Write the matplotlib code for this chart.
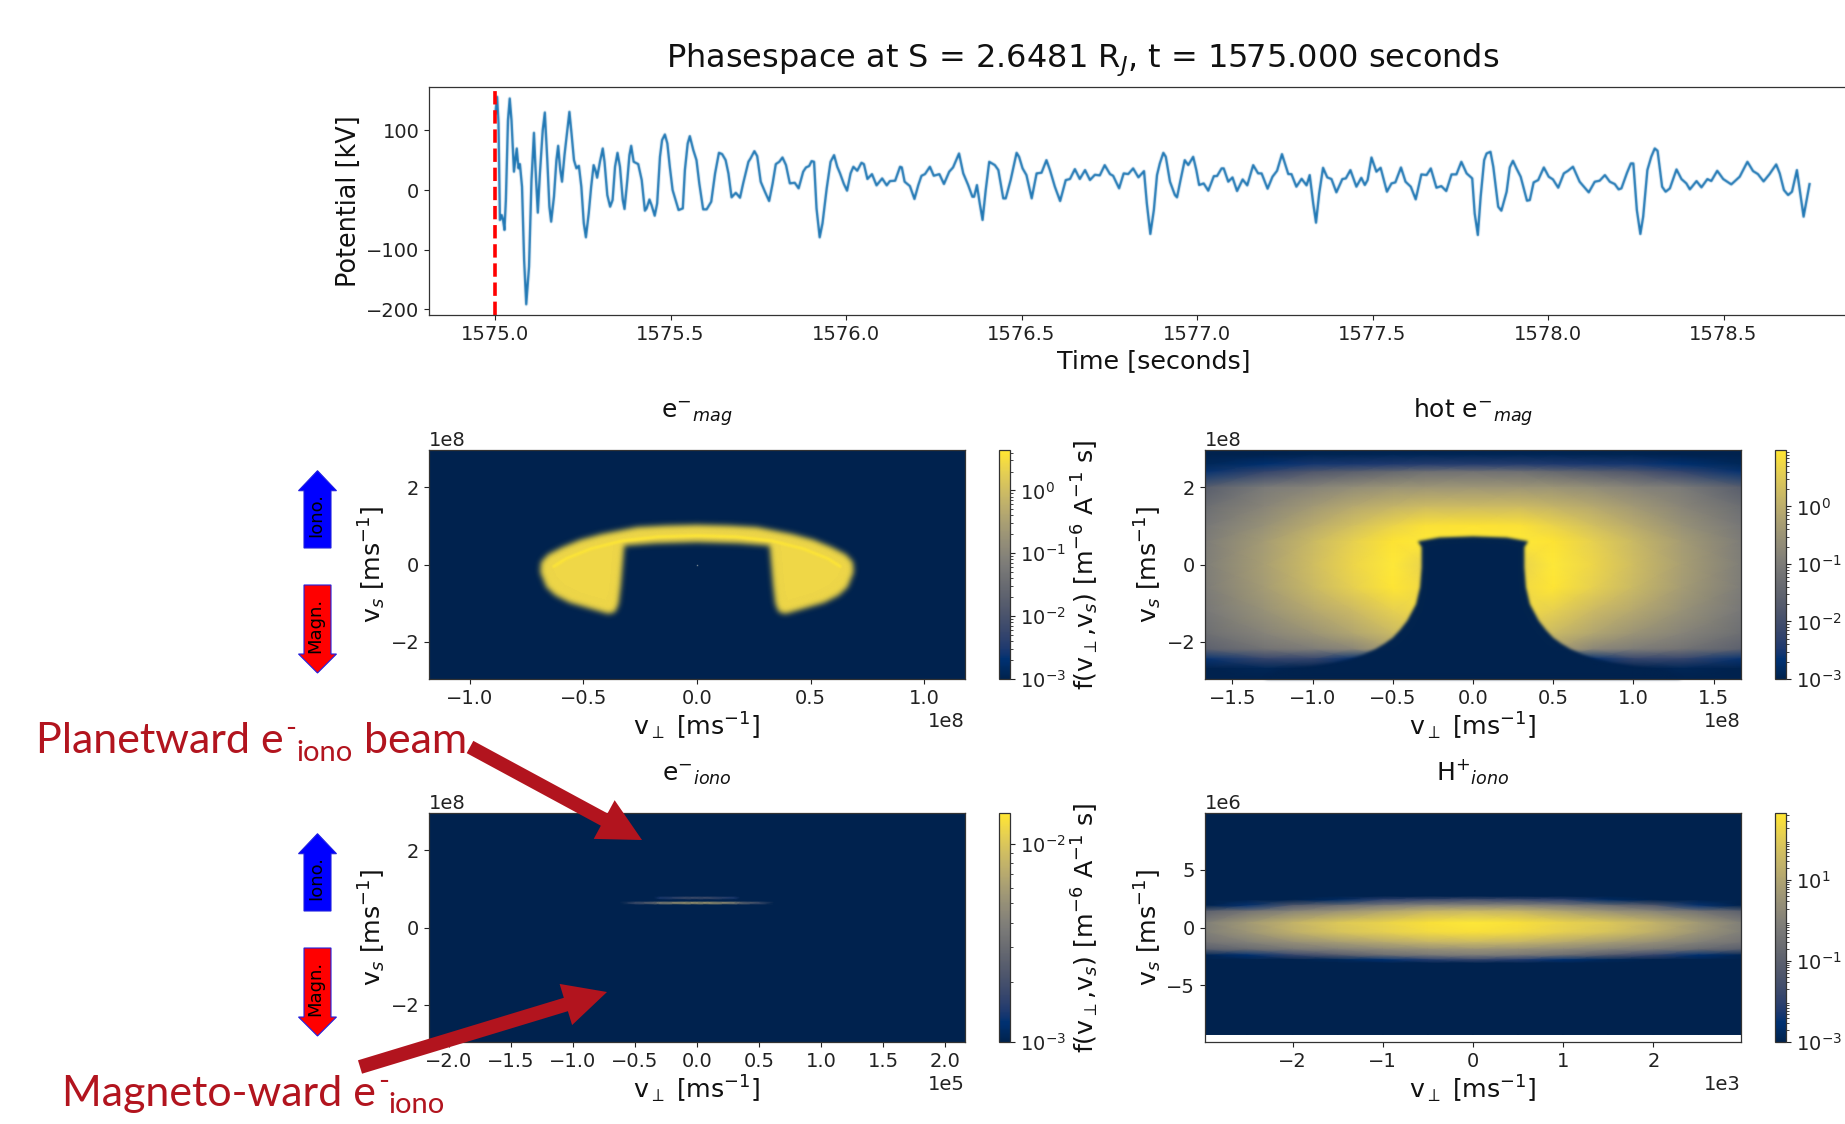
import numpy as np
import matplotlib
matplotlib.use('Agg')
import matplotlib.pyplot as plt
from matplotlib.colors import LogNorm
from matplotlib.cm import ScalarMappable
from matplotlib.patches import FancyArrow
from matplotlib.ticker import LogLocator, NullFormatter

W, H = 1845, 1124
plt.rcParams.update({'font.size': 14, 'axes.edgecolor': '#333333', 'axes.linewidth': 0.9,
                     'xtick.color': '#222222', 'ytick.color': '#222222', 'text.color': '#111111',
                     'axes.labelcolor': '#111111', 'axes.titlecolor': '#111111'})

# ---- potential time series (ms after 1575 s, kV) ----
time_ms = [1,6,10,14,19,23,27,31,37,42,47,54,62,67,71,77,83,89,97,104,111,117,122,128,136,142,149,155,160,168,175,180,186,191,198,205,212,218,225,232,239,246,253,259,267,274,281,286,291,299,307,312,320,328,335,342,349,356,364,369,377,383,388,395,408,418,427,432,440,446,455,462,470,476,484,491,498,506,513,523,535,541,549,555,565,574,582,593,603,616,627,638,647,657,665,674,686,698,707,722,728,739,747,757,769,781,791,800,810,819,829,840,854,865,878,886,895,902,909,916,925,933,945,956,966,975,983,994,1003,1013,1021,1032,1044,1051,1061,1074,1087,1103,1116,1125,1140,1154,
 1159,1167,1182,1195,1206,1215,1225,1239,1250,1266,1279,1294,1305,1322,1334,1348,1360,1365,1373,1381,1389,1398,1408,1424,1434,1448,1455,1469,1486,1493,1503,1514,1529,1543,1557,1571,1581,1595,1610,1626,1638,1652,1666,1681,1695,1709,1723,1737,1752,1761,1778,1791,1804,1818,1833,1849,1857,1867,1877,1886,1894,1904,1911,1923,1937,1943,1953,1965,1975,1989,1998,2006,2019,2032,2048,2057,2070,2076,2089,2101,2114,2130,2143,2160,2174,2184,2201,2215,2228,2242,2260,2269,2283,2298,2312,2321,2331,2339,2348,2359,2371,2383,2397,2414,2424,2437,2454,2468,2478,
 2486,2497,2511,2523,2541,2554,2565,2581,2594,2609,2623,2639,2654,2666,2682,2696,2710,2725,2739,2753,2768,2784,2791,2800,2808,2818,2825,2836,2844,2858,2867,2882,2891,2900,2910,2922,2940,2948,2959,2972,2988,3002,3014,3029,3045,3057,3071,3090,3116,3133,3147,3162,3176,3190,3201,3209,3225,3236,3243,3253,3263,3271,3283,3294,3304,3312,3325,3335,3347,3366,3380,3394,3404,3423,3437,3454,3465,3482,3499,3522,3546,3568,3584,3598,3614,3631,3650,3660,3672,3684,3695,3709,3728,3745]
potential_kv = [128.6,156.6,111.9,-50.3,-41.9,-50.3,-67.1,-16.8,117.5,153.8,117.5,30.8,69.9,36.4,43.6,5.6,-117.5,-191.8,-128.6,16.8,96.2,16.8,-38,28,100.7,130.3,50.3,-28,-53.1,-11.2,50.3,74.4,33.6,14,58.7,95.1,131.4,95.1,50.3,36.4,40.8,5.6,-55.9,-79.4,-39.2,5.6,41.9,33.6,20.7,47.5,69.9,47.5,-8.4,-28,-16.8,39.2,62.6,39.2,-16.8,-31.9,16.8,58.7,74.4,47.5,43.6,16.8,-34.7,-30.8,-15.7,-25.2,-43.1,-22.4,55.9,83.9,93.4,78.3,39.2,0,-14,-33.6,-30.8,33.6,78.3,90.6,67.1,50.3,11.2,-32.4,-32.4,-19.6,28,62.6,60.4,50.3,28,-12.3,-4.5,-12.9,11.2,47.5,53.1,65.4,57,14,-2.8,-18.5,11.2,43.6,47.5,54.8,41.9,11.2,12.3,2.8,30.8,38,40.3,48.7,47.5,-30.8,-79.4,-55.9,2.8,47.5,58.7,39.2,28,10.1,-1.1,28,39.2,32.4,45.9,43.6,18.5,26.8,7.8,19.6,7.8,15.1,15.7,39.2,
 38,14,6.7,-15.1,8.4,24,26.8,39.2,24,26.8,10.1,30.8,38,61.5,28,8.4,-11.2,-11.2,8.4,-22.4,-50.3,0,47.5,41.9,33.6,-14,-14,16.8,62.6,55.9,36.4,25.2,-14,28,29.1,50.3,33.6,5.6,-18.5,16.8,18.5,35.2,18.5,33.6,16.8,25.7,24.6,41.9,26.8,24,2.8,28,26.8,36.4,21.3,31.9,-22.4,-73.8,-33.6,25.2,44.7,62.6,55.9,14,-8.4,-12.3,16.8,50.3,41.9,55.9,33.6,8.4,11.2,-1.1,23.5,23.5,36.4,36.4,14,21.3,-1.7,17.9,7.8,41.9,28,28,2.2,22.4,32.4,60.4,26.8,26.8,5.6,19,7.8,25.2,-22.4,-54.8,-5.6,37.5,21.3,18.5,-3.9,18.5,19.6,33.6,5.6,20.7,8.4,
 16.8,54.8,30.8,37.5,-2.8,11.2,12.9,38,14,5.6,-15.7,26.3,25.2,36.4,3.9,6.7,-1.7,26.3,26.3,47.5,28,19.6,-39.2,-75.5,-11.2,50.3,61.5,64.3,39.2,-28,-34.7,-2.8,38,49.2,36.4,22.4,-17.9,-16.8,12.9,16.8,38,22.4,17.9,3.9,28,32.4,39.2,14,-3.9,14,15.7,25.2,14,10.1,1.1,2.8,29.1,44.7,44.7,-33.6,-73.8,-44.7,33.6,55.9,69.9,66,5.6,-2.8,2.8,34.7,18.5,11.2,1.1,15.1,4.5,18.5,15.1,32.4,18.5,9.5,22.4,47.5,31.9,26.8,14.5,26.8,43.1,28,0,-8.4,-2.8,33.6,-44.7,10.1]

# ---- e- mag: outline of the bright region, half shape (1e8 m/s) ----
mag_outline_perp = [0,-.138,-.263,-.42,-.514,-.593,-.656,-.687,-.69,-.663,-.624,-.561,-.467,-.389,-.36,-.345,-.335,-.32,-.185,0]
mag_outline_par = [1.03,1.01,.97,.79,.64,.45,.26,.06,-.2,-.59,-.8,-.99,-1.15,-1.28,-1.23,-1.02,-.54,.49,.55,.58]
mag_ridge_perp = [-0.63,-0.577,-0.467,-0.326,-0.17,0]
mag_ridge_par = [-0.05,0.15,0.41,0.62,0.72,0.75]

# ---- hot e- mag: log10 f on a coarse read grid (half plane) ----
hot_perp = [0,0.3,0.5,0.75,1.0,1.3,1.67]
hot_par = [2.97,2.85,2.6,2.4,2.0,1.5,1.0,0.6,0,-0.6,-1.2,-1.8,-2.2,-2.45,-2.7,-2.97]
hot_log10f = [
 [-3,-3,-3,-3,-3,-3,-3],
 [-2.92,-2.92,-2.92,-2.95,-2.95,-3,-3],
 [-2.4,-2.4,-2.45,-2.5,-2.52,-2.7,-2.88],
 [-1.21,-1.25,-1.41,-1.6,-1.8,-2.2,-2.6],
 [-.45,-.47,-.5,-.65,-.85,-1.05,-1.65],
 [.25,.25,.12,-.1,-.4,-.8,-1.3],
 [.92,.88,.68,.32,-.05,-.55,-1.1],
 [.98,.98,.92,.6,.2,-.35,-1.0],
 [.65,.65,.98,.7,.28,-.28,-.95],
 [.75,.75,.95,.6,.2,-.35,-1.0],
 [.75,.75,.6,.22,-.12,-.55,-1.1],
 [.4,.4,.2,-.18,-.52,-.85,-1.3],
 [-.3,-.3,-.3,-.8,-1.0,-1.2,-1.6],
 [-2.6,-2.6,-2.6,-2.6,-2.2,-2.2,-2.6],
 [-3,-3,-3,-3,-3,-2.92,-3],
 [-3,-3,-3,-3,-3,-3,-3]]
hot_hole_perp = [0,-0.21,-0.344,-0.32,-0.32,-0.33,-0.355,-0.41,-0.455,-0.5,-0.55,-0.61,-0.68,-0.77,-0.87,-0.99,-1.21,-1.3,0]
hot_hole_par = [0.73,0.70,0.60,0.45,-0.07,-0.59,-1.03,-1.46,-1.7,-1.90,-2.05,-2.2,-2.33,-2.46,-2.55,-2.63,-2.75,-2.97,-2.97]

# ---- e- iono: thin beams (1e5 and 1e8 m/s) ----
iono_perp = [0,0.1,0.3,0.35,0.5,0.62,2.157]
iono_par = [2.97,0.81,0.76,0.71,0.68,0.63,0.58,-2.97]
iono_log10f = [
 [-3,-3,-3,-3,-3,-3,-3],
 [-3,-3,-3,-3,-3,-3,-3],
 [-2.7,-2.7,-2.85,-3,-3,-3,-3],
 [-3,-3,-3,-3,-3,-3,-3],
 [-3,-3,-3,-3,-3,-3,-3],
 [-2.2,-2.2,-2.33,-2.5,-2.7,-3,-3],
 [-3,-3,-3,-3,-3,-3,-3],
 [-3,-3,-3,-3,-3,-3,-3]]

# ---- H+ iono: log10 f (1e3 and 1e6 m/s) ----
h_perp = [0,0.5,1,1.5,2,2.5,2.97]
h_par = [9.9,2.7,2.4,1.9,1.4,0.4,-0.4,-1.3,-1.9,-2.4,-2.8,-3.1,-9.25]
h_log10f = [
 [-3,-3,-3,-3,-3,-3,-3],
 [-3,-3,-3,-3,-3,-3,-3],
 [-1.58,-1.75,-1.98,-2.72,-3,-3,-3],
 [.11,.11,-.17,-.62,-1.19,-2.43,-3],
 [1.53,1.41,.96,.51,.11,-.45,-1.02],
 [2.66,2.49,2.21,1.92,1.41,.68,-.06],
 [2.49,2.38,2.09,1.81,1.3,.57,-.06],
 [1.53,1.41,1.08,.74,.4,-.06,-.45],
 [.51,.4,.17,-.06,-.34,-.74,-1.08],
 [-.17,-.28,-.62,-1.19,-1.87,-2.55,-2.89],
 [-1.87,-2.15,-2.55,-2.83,-3,-3,-3],
 [-3,-3,-3,-3,-3,-3,-3],
 [-3,-3,-3,-3,-3,-3,-3]]

# colour limits
mag_vmax, hot_vmax, iono_vmax, h_vmax = 4.4, 9.6, 0.0143, 460.0
vmin = 1e-3
x_t = [1575.0,1575.5,1576.0,1576.5,1577.0,1577.5,1578.0,1578.5]

def place(l, t, r, b):
    return [l/W, 1-b/H, (r-l)/W, (b-t)/H]

def mirror_axis(v):
    v = np.asarray(v, float)
    return np.concatenate([-v[:0:-1], v])

def mirror_field(z):
    z = np.asarray(z, float)
    return np.concatenate([z[:, :0:-1], z], axis=1)

def soften(sigma):
    """Soft raster look of the reference: blur an artist's pixels."""
    pad = int(3*sigma) + 2
    k = np.exp(-0.5*(np.arange(-pad, pad+1)/sigma)**2)
    k /= k.sum()
    def conv(a):
        for axis in (0, 1):
            a = np.apply_along_axis(lambda r: np.convolve(r, k, mode='same'), axis, a)
        return a
    def f(im, dpi):
        a = np.pad(im, ((pad, pad), (pad, pad), (0, 0)))
        alpha = a[..., 3]
        ab = conv(alpha)
        out = np.zeros_like(a)
        for c in range(3):
            out[..., c] = conv(a[..., c]*alpha)/np.maximum(ab, 1e-4)
        out[..., 3] = ab
        return np.clip(out, 0, 1), -pad, -pad
    return f

cmap = plt.get_cmap('cividis')
fig = plt.figure(figsize=(W/100, H/100), dpi=100, facecolor='white')

# ---- top axes (runs past the right edge of the picture) ----
ax0 = fig.add_axes(place(429, 87, 1878, 315))
ln, = ax0.plot(1575 + np.array(time_ms)/1000.0, potential_kv, color='#1f77b4', lw=1.7, solid_joinstyle='round')
ln.set_agg_filter(soften(0.6))
ax0.axvline(1575.0, color='red', ls='--', lw=2.6)
ax0.set_xlim(1574.812, 1578.94)
ax0.set_ylim(-209.7, 173)
ax0.set_xticks(x_t)
ax0.set_yticks([-200,-100,0,100])
ax0.ticklabel_format(useOffset=False, axis='x')
ax0.set_xlabel('Time [seconds]', fontsize=18.3, labelpad=4)
ax0.set_ylabel('Potential [kV]', fontsize=18.4, labelpad=3)
fig.text(1083/W, 1-60/H, r'Phasespace at S = 2.6481 R$_J$, t = 1575.000 seconds', fontsize=23,
         ha='center', va='center')

xlab = r'v$_{\perp}$ [ms$^{-1}$]'
ylab = r'v$_{s}$ [ms$^{-1}$]'
cblab = r'f(v$_{\perp}$,v$_{s}$) [m$^{-6}$ A$^{-1}$ s]'

def panel(box, cbox, title, vmax, cbticks, xlim, ylim, xt, yt, cbarlabel=False):
    ax = fig.add_axes(place(*box))
    norm = LogNorm(vmin=vmin, vmax=vmax)
    ax.set_facecolor(cmap(0.0))
    ax.set_xlim(-xlim, xlim)
    ax.set_ylim(-ylim, ylim)
    ax.set_xticks(xt)
    ax.set_yticks(yt)
    ax.ticklabel_format(style='sci', axis='both', scilimits=(0, 0))
    ax.set_xlabel(xlab, fontsize=18.2, labelpad=2)
    ax.set_ylabel(ylab, fontsize=18.2, labelpad=2)
    ax.set_title(title, fontsize=18, pad=23)
    cax = fig.add_axes(place(*cbox))
    cb = fig.colorbar(ScalarMappable(norm=norm, cmap=cmap), cax=cax)
    cb.set_ticks(cbticks)
    cax.yaxis.set_minor_locator(LogLocator(base=10, subs=np.arange(2, 10), numticks=20))
    cax.yaxis.set_minor_formatter(NullFormatter())
    if cbarlabel:
        cb.set_label(cblab, fontsize=18.3, labelpad=3)
    return ax, norm

# e- mag
ax1, n1 = panel((429,450,965,679), (999,450,1010,679), r'e$^{-}$$_{mag}$', mag_vmax,
                [1e-3,1e-2,1e-1,1e0], 1.18e8, 2.97e8,
                np.array([-1,-.5,0,.5,1])*1e8, np.array([-2,0,2])*1e8, True)
ox = np.concatenate([mag_outline_perp, -np.array(mag_outline_perp[::-1])])*1e8
oy = np.concatenate([mag_outline_par, mag_outline_par[::-1]])*1e8
for p in ax1.fill(ox, oy, facecolor=cmap(n1(2.6)), edgecolor='none'):
    p.set_agg_filter(soften(2.8))
rx = np.concatenate([mag_ridge_perp, -np.array(mag_ridge_perp[::-1])])*1e8
ry = np.concatenate([mag_ridge_par, mag_ridge_par[::-1]])*1e8
rl, = ax1.plot(rx, ry, color=cmap(n1(4.2)), lw=2.0, solid_joinstyle='round')
rl.set_agg_filter(soften(1.0))
ax1.plot([0], [0], marker='s', ms=1, color='#6f7f8f', mew=0)

# hot e- mag
ax2, n2 = panel((1205,450,1741,679), (1775,450,1786,679), r'hot e$^{-}$$_{mag}$', hot_vmax,
                [1e-3,1e-2,1e-1,1e0], 1.67e8, 2.97e8,
                np.array([-1.5,-1,-.5,0,.5,1,1.5])*1e8, np.array([-2,0,2])*1e8)
ax2.pcolormesh(mirror_axis(hot_perp)*1e8, np.array(hot_par)*1e8, 10**mirror_field(hot_log10f),
               shading='gouraud', cmap=cmap, norm=n2)
hx = np.concatenate([hot_hole_perp, -np.array(hot_hole_perp[::-1])])*1e8
hy = np.concatenate([hot_hole_par, hot_hole_par[::-1]])*1e8
for p in ax2.fill(hx, hy, facecolor=cmap(0.0), edgecolor='none'):
    p.set_agg_filter(soften(1.5))

# e- iono
ax3, n3 = panel((429,813,965,1042), (999,813,1010,1042), r'e$^{-}$$_{iono}$', iono_vmax,
                [1e-3,1e-2], 2.157e5, 2.97e8,
                np.array([-2,-1.5,-1,-.5,0,.5,1,1.5,2])*1e5, np.array([-2,0,2])*1e8, True)
ax3.pcolormesh(mirror_axis(iono_perp)*1e5, np.array(iono_par)*1e8, 10**mirror_field(iono_log10f),
               shading='gouraud', cmap=cmap, norm=n3)

# H+ iono
ax4, n4 = panel((1205,813,1741,1042), (1775,813,1786,1042), r'H$^{+}$$_{iono}$', h_vmax,
                [1e-3,1e-1,1e1], 2.97e3, 9.9e6,
                np.array([-2,-1,0,1,2])*1e3, np.array([-5,0,5])*1e6)
ax4.set_facecolor('white')
ax4.pcolormesh(mirror_axis(h_perp)*1e3, np.array(h_par)*1e6, 10**mirror_field(h_log10f),
               shading='gouraud', cmap=cmap, norm=n4)

# ---- annotation layer in picture pixels ----
ov = fig.add_axes([0, 0, 1, 1], zorder=10, facecolor='none')
ov.set_xlim(0, W); ov.set_ylim(H, 0); ov.axis('off')
for dy in (0, 363):
    ov.add_patch(FancyArrow(317.5, 548+dy, 0, -77.3, width=27, head_width=38, head_length=20,
                            length_includes_head=True, fc='#0000ff', ec='#2020e0', lw=0.8))
    ov.add_patch(FancyArrow(317.5, 585+dy, 0, 88, width=27, head_width=38, head_length=19,
                            length_includes_head=True, fc='#ff0000', ec='#2020e0', lw=0.8))
    ov.text(316, 515+dy, 'Iono.', rotation=90, ha='center', va='center', fontsize=13, color='black')
    ov.text(315, 625+dy, 'Magn.', rotation=90, ha='center', va='center', fontsize=13, color='black')

dark = '#B2141E'
ov.add_patch(FancyArrow(470, 747, 172, 93, width=14, head_width=44, head_length=43,
                        length_includes_head=True, fc=dark, ec='none'))
ov.add_patch(FancyArrow(360, 1067, 247, -75, width=14, head_width=43, head_length=43,
                        length_includes_head=True, fc=dark, ec='none'))
font = 'Lato'
for x, y, s, fs in [(36,753,'Planetward e',31),(285,737,'-',21),(296,761,'iono',21),(364,753,'beam',31),
                    (62,1106,'Magneto-ward e',31),(378,1090,'-',21),(388,1113,'iono',21)]:
    ov.text(x, y, s, family=font, fontsize=fs, color=dark, ha='left', va='baseline')

fig.savefig('out.png', dpi=100)
